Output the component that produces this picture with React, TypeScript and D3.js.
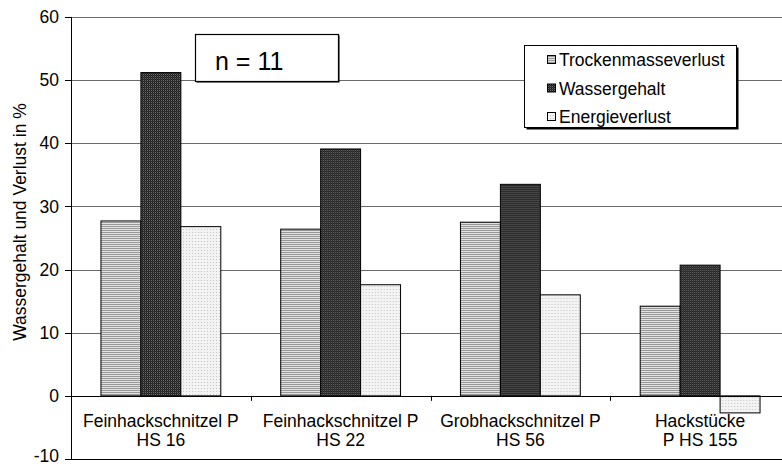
import React from "react";
import * as d3 from "d3";

const categoriesLine1 = ["Feinhackschnitzel P", "Feinhackschnitzel P", "Grobhackschnitzel P", "Hackstücke"];
const categoriesLine2 = ["HS 16", "HS 22", "HS 56", "P HS 155"];
const seriesNames = ["Trockenmasseverlust", "Wassergehalt", "Energieverlust"];
const trockenmasseverlust = [27.7, 26.4, 27.5, 14.2];
const wassergehalt = [51.2, 39.1, 33.5, 20.7];
const energieverlust = [26.8, 17.6, 16.0, -2.7];
const yTicks = [-10, 0, 10, 20, 30, 40, 50, 60];
const yTitle = "Wassergehalt und Verlust in %";
const annotation = "n = 11";

const W = 782;
const H = 466;
const FONT = "Liberation Sans, Arial, Helvetica, sans-serif";
const FS = 17.5;

export default function App() {
  const seriesValues = [trockenmasseverlust, wassergehalt, energieverlust];
  const patternIds = ["pTrocken", "pWasser", "pEnergie"];
  const cats = categoriesLine1.map((_, i) => String(i));

  const y = d3.scaleLinear().domain([-10, 60]).range([459, 17]);
  const x0 = d3.scaleBand<string>().domain(cats).range([71, 790]).paddingInner(0).paddingOuter(0);
  const x1 = d3
    .scaleBand<string>()
    .domain(seriesNames)
    .range([0, x0.bandwidth()])
    .paddingInner(0)
    .paddingOuter(0.75);

  const left = 71;
  const right = 790;

  return (
    <svg
      width={W}
      height={H}
      style={{ position: "absolute", left: 0, top: 0, background: "#fff" }}
      fontFamily={FONT}
    >
      <defs>
        <pattern id="pTrocken" width="4" height="2" patternUnits="userSpaceOnUse">
          <rect width="4" height="2" fill="#e2e2e2" />
          <rect width="4" height="1" fill="#979797" />
        </pattern>
        <pattern id="pWasser" width="2" height="2" patternUnits="userSpaceOnUse">
          <rect width="2" height="2" fill="#1e1e1e" />
          <rect x="0" y="0" width="1" height="1" fill="#6e6e6e" />
          <rect x="1" y="1" width="1" height="1" fill="#3a3a3a" />
        </pattern>
        <pattern id="pEnergie" width="3" height="3" patternUnits="userSpaceOnUse">
          <rect width="3" height="3" fill="#f3f3f3" />
          <rect x="1" y="1" width="1" height="1" fill="#c4c4c4" />
        </pattern>
      </defs>

      {/* gridlines */}
      {yTicks.map((t) => (
        <line
          key={"g" + t}
          x1={left}
          x2={right}
          y1={Math.round(y(t)) + 0.5}
          y2={Math.round(y(t)) + 0.5}
          stroke={t === -10 ? "#000" : "#6a6a6a"}
          strokeWidth={1}
        />
      ))}

      {/* bars */}
      {cats.map((c, ci) => (
        <g key={"c" + c} transform={`translate(${x0(c)},0)`}>
          {seriesNames.map((s, si) => {
            const v = seriesValues[si][ci];
            const y0 = y(0);
            const yv = y(v);
            return (
              <rect
                key={s}
                x={x1(s)!}
                y={Math.min(y0, yv)}
                width={x1.bandwidth()}
                height={Math.abs(yv - y0)}
                fill={`url(#${patternIds[si]})`}
                stroke="#000"
                strokeWidth={1}
              />
            );
          })}
        </g>
      ))}

      {/* y axis */}
      <line x1={left + 0.5} x2={left + 0.5} y1={y(60)} y2={y(-10)} stroke="#000" />
      {yTicks.map((t) => (
        <g key={"t" + t}>
          <line
            x1={left - 6}
            x2={left}
            y1={Math.round(y(t)) + 0.5}
            y2={Math.round(y(t)) + 0.5}
            stroke="#000"
          />
          <text
            x={59}
            y={t === -10 ? y(t) - 3 : y(t)}
            dy="0.35em"
            textAnchor="end"
            fontSize={FS}
            fill="#000"
          >
            {t}
          </text>
        </g>
      ))}

      {/* category axis at 0 */}
      <line x1={left} x2={right} y1={Math.round(y(0)) + 0.5} y2={Math.round(y(0)) + 0.5} stroke="#000" />
      {cats.map((c) => (
        <line
          key={"ct" + c}
          x1={Math.round(x0(c)!) + 0.5}
          x2={Math.round(x0(c)!) + 0.5}
          y1={y(0)}
          y2={y(0) + 5}
          stroke="#000"
        />
      ))}
      {cats.map((c, i) => {
        const cx = x0(c)! + x0.bandwidth() / 2;
        return (
          <text key={"cl" + c} x={cx} textAnchor="middle" fontSize={FS} fill="#000">
            <tspan x={cx} y={427}>
              {categoriesLine1[i]}
            </tspan>
            <tspan x={cx} y={446}>
              {categoriesLine2[i]}
            </tspan>
          </text>
        );
      })}

      {/* y title */}
      <text
        transform={`translate(26,222) rotate(-90)`}
        textAnchor="middle"
        fontSize={FS}
        fill="#000"
      >
        {yTitle}
      </text>

      {/* annotation box */}
      <rect x={196.5} y={35.5} width={143} height={47} fill="#000" />
      <rect x={195.5} y={34.5} width={143} height={47} fill="#fff" stroke="#000" strokeWidth={1.2} />
      <text x={215} y={70} fontSize={25} fill="#000">
        {annotation}
      </text>

      {/* legend */}
      <rect x={526.5} y={47.5} width={212} height={82} fill="#000" />
      <rect x={524.5} y={45.5} width={212} height={82} fill="#fff" stroke="#000" strokeWidth={1} />
      {seriesNames.map((s, i) => {
        const base = 66 + i * 28.5;
        return (
          <g key={"l" + s}>
            <rect
              x={547.5}
              y={base - 10.5}
              width={8}
              height={8}
              fill={`url(#${patternIds[i]})`}
              stroke="#000"
              strokeWidth={1}
            />
            <text x={559} y={base} fontSize={FS} fill="#000">
              {s}
            </text>
          </g>
        );
      })}
    </svg>
  );
}
